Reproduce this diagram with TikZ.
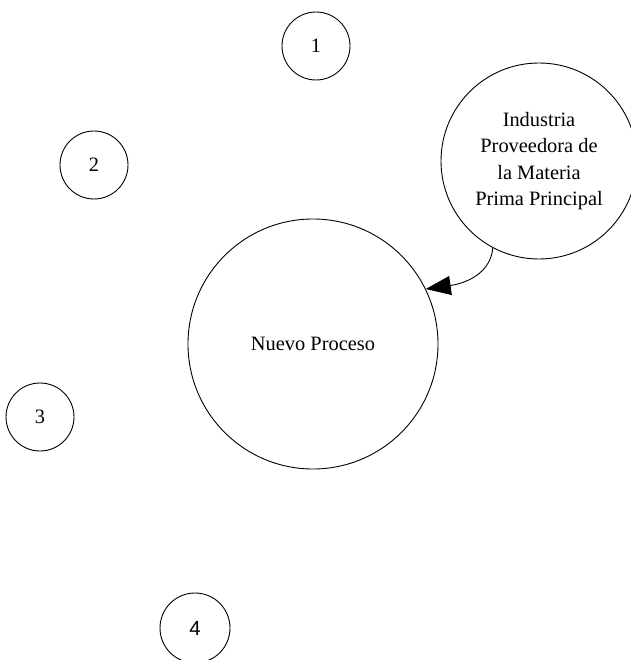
\documentclass[tikz,border=0pt]{standalone}
\usepackage{fontspec}
\setmainfont{Liberation Serif}
\newfontfamily\arialfont{Liberation Sans}
\usetikzlibrary{arrows.meta}
\tikzset{
  proc/.style={draw, circle, line width=0.9pt, inner sep=0pt, align=center,
    font=\fontsize{20.4}{26.6}\selectfont},
  link/.style={line width=0.9pt, -{Triangle[length=25pt,width=19pt]}}
}
\begin{document}
\begin{tikzpicture}[x=1pt,y=-1pt]
\useasboundingbox (0,0) rectangle (630,660);
\node[proc, minimum size=68pt] (n1) at (316,46) {1};
\node[proc, minimum size=68pt] (n2) at (94,165) {2};
\node[proc, minimum size=68pt] (n3) at (40,417) {3};
\node[proc, minimum size=70pt, font=\fontsize{20.4}{26.6}\selectfont\arialfont] (n4) at (195,628) {4};
\node[proc, minimum size=250pt] (np) at (313,344) {Nuevo Proceso};
\node[proc, minimum size=196pt] (ind) at (539,161) {Industria\\Proveedora de\\la Materia\\Prima Principal};
\draw[link] (ind.242) to[out=-95, in=8] (np.26.6);
\end{tikzpicture}
\end{document}
